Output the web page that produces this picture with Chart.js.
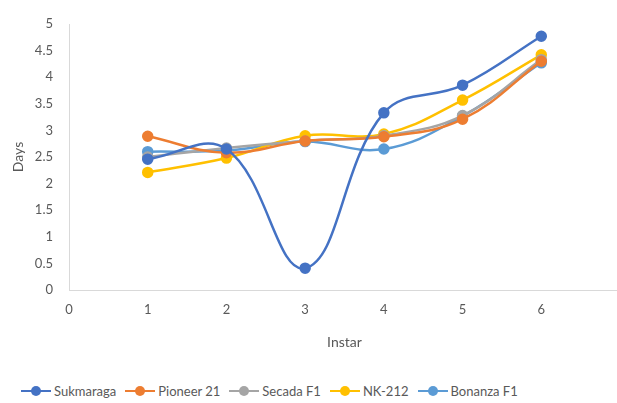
<!DOCTYPE html>
<html lang="en">
<head>
<meta charset="UTF-8">
<title>Instar duration</title>
<style>
  html, body { margin: 0; padding: 0; background: #fff; overflow: hidden; width: 617px; height: 403px; }
  #wrap { position: relative; width: 632px; height: 355px; }
  #legend { position: absolute; top: 383px; left: 21px; width: 600px; text-align: left;
            font-family: Lato, "Open Sans", sans-serif; font-size: 13px; color: #595959; white-space: nowrap; }
  .item { display: inline-flex; align-items: center; margin: 0 9px 0 0; }
  .key { position: relative; width: 30px; height: 10px; margin-right: 3px; }
  .key .ln { position: absolute; left: 0; right: 0; top: 4px; height: 2px; }
  .key .dt { position: absolute; left: 10px; top: 0; width: 10px; height: 10px; border-radius: 50%; }
</style>
</head>
<body>
<div id="wrap"><canvas id="chart" width="632" height="355"></canvas></div>
<div id="legend"></div>
<script src="https://cdn.jsdelivr.net/npm/chart.js"></script>
<script>
const instars = [1, 2, 3, 4, 5, 6];
const seriesNames = ['Sukmaraga', 'Pioneer 21', 'Secada F1', 'NK-212', 'Bonanza F1'];
const sukmaraga = [2.46, 2.65, 0.41, 3.33, 3.85, 4.77];
const pioneer21 = [2.89, 2.58, 2.80, 2.88, 3.21, 4.30];
const secadaF1  = [2.50, 2.67, 2.80, 2.90, 3.28, 4.33];
const nk212     = [2.21, 2.48, 2.90, 2.93, 3.57, 4.42];
const bonanzaF1 = [2.60, 2.62, 2.79, 2.65, 3.27, 4.27];
const colors = ['#4472C4', '#ED7D31', '#A5A5A5', '#FFC000', '#5B9BD5'];

const allValues = [sukmaraga, pioneer21, secadaF1, nk212, bonanzaF1];
const font = "Lato, 'Open Sans', sans-serif";
const txt = '#595959';

const datasets = allValues.map((vals, i) => ({
  label: seriesNames[i],
  data: vals.map((v, j) => ({ x: instars[j], y: v })),
  borderColor: colors[i],
  backgroundColor: colors[i],
  pointBackgroundColor: colors[i],
  pointBorderColor: colors[i],
  borderWidth: 2.5,
  pointRadius: 4.5,
  tension: 0.4,
  fill: false
}));

new Chart(document.getElementById('chart'), {
  type: 'line',
  data: { datasets },
  options: {
    responsive: false,
    animation: false,
    layout: { padding: { top: 24, right: 0, left: 0, bottom: 0 } },
    plugins: { legend: { display: false }, tooltip: { enabled: false } },
    scales: {
      x: {
        type: 'linear', min: 0, max: 7,
        grid: { display: false, drawTicks: false },
        border: { color: '#D9D9D9', width: 1 },
        ticks: { stepSize: 1, color: txt, font: { family: font, size: 13 }, padding: 12,
                 callback: v => v === 7 ? '' : String(v) },
        title: { display: true, text: 'Instar', color: txt, font: { family: font, size: 14 }, padding: { top: 4 } },
        afterFit: s => { s.height = 65; }
      },
      y: {
        min: 0, max: 5,
        grid: { display: false, drawTicks: false },
        border: { color: '#D9D9D9', width: 1 },
        ticks: { stepSize: 0.5, color: txt, font: { family: font, size: 13 }, padding: 16,
                 callback: v => String(Math.round(v * 10) / 10) },
        title: { display: true, text: 'Days', color: txt, font: { family: font, size: 14 }, padding: { top: 10, bottom: 4 } },
        afterFit: s => { s.width = 69; }
      }
    }
  }
});

const legend = document.getElementById('legend');
seriesNames.forEach((name, i) => {
  const it = document.createElement('span');
  it.className = 'item';
  it.innerHTML = '<span class="key"><span class="ln" style="background:' + colors[i] +
    '"></span><span class="dt" style="background:' + colors[i] + '"></span></span>' + name;
  legend.appendChild(it);
});
</script>
</body>
</html>
